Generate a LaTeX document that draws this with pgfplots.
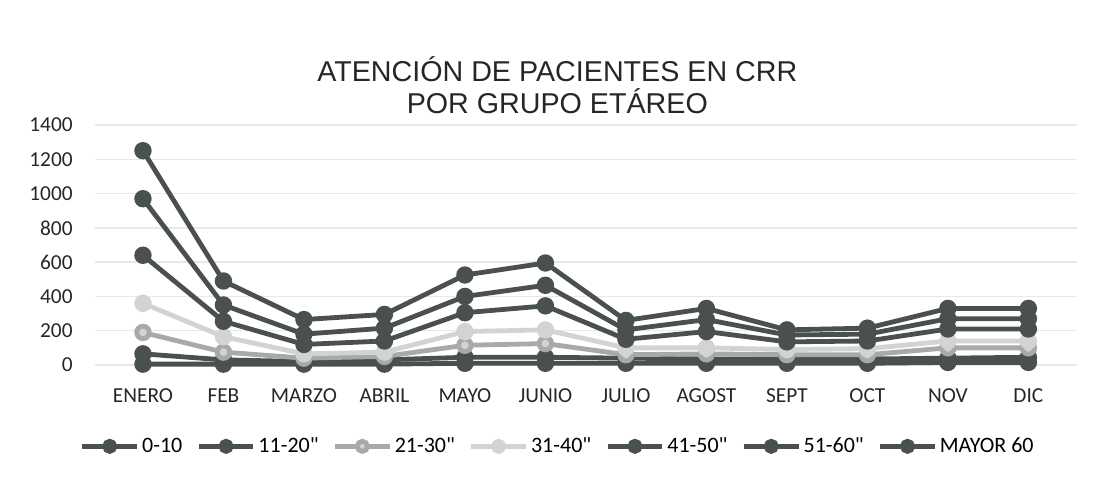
\documentclass[border=0pt]{standalone}
\usepackage{pgfplots}
\pgfplotsset{compat=1.18}
\usepackage{fontspec}
\setmainfont{Carlito}
\newfontfamily\legfont{Carlito}
\newfontfamily\titlefont{Liberation Sans}
\definecolor{dk}{HTML}{4A504E}
\definecolor{md}{HTML}{A8AAA9}
\definecolor{lt}{HTML}{D2D3D2}
\definecolor{gridc}{HTML}{E8E8E8}
\begin{document}
\begin{tikzpicture}[x=1pt,y=1pt]
\begin{axis}[
  scale only axis,
  width=736.5pt, height=180pt,
  xmin=-0.6, xmax=11.6, ymin=0, ymax=1400,
  axis line style={draw=none},
  xtick={0,...,11},
  xticklabels={ENERO,FEB,MARZO,ABRIL,MAYO,JUNIO,JULIO,AGOST,SEPT,OCT,NOV,DIC},
  ytick={0,200,...,1400},
  major tick length=0pt,
  tick style={draw=none},
  xmajorgrids=false,
  ymajorgrids, grid style={draw=gridc, line width=1pt},
  tick label style={font=\fontsize{16}{18}\selectfont, text=black!85},
  /pgf/number format/assume math mode=true,
  /pgf/number format/1000 sep={},
  xticklabel style={yshift=-14.5pt},
  yticklabel style={xshift=-13pt},
  every axis plot/.append style={line width=3.6pt, mark=*, mark size=4.7pt},
  legend columns=7,
  legend style={draw=none, fill=none, at={([yshift=-61pt]rel axis cs:0.472,0)}, anchor=center,
    font=\legfont\fontsize{16.5}{19}\selectfont,
    nodes={inner xsep=2pt},
    /tikz/every even column/.append style={column sep=8.5pt}},
  legend image code/.code={\draw[#1, line width=3.6pt] (0pt,0pt) -- (41pt,0pt);
    \draw[#1, mark size=3.8pt, mark repeat=1] plot coordinates {(20.5pt,0pt)};},
  clip=false,
]
\addplot[color=dk, mark options={fill=dk}] coordinates {(0,5)(1,5)(2,5)(3,5)(4,10)(5,10)(6,10)(7,10)(8,10)(9,10)(10,15)(11,15)};
\addlegendentry{0-10}
\addplot[color=dk, mark options={fill=dk}] coordinates {(0,65)(1,30)(2,20)(3,30)(4,45)(5,45)(6,40)(7,35)(8,35)(9,35)(10,40)(11,45)};
\addlegendentry{11-20"}
\addplot[color=md, mark options={fill=lt, draw=md}] coordinates {(0,190)(1,75)(2,40)(3,50)(4,115)(5,125)(6,60)(7,65)(8,60)(9,60)(10,100)(11,100)};
\addlegendentry{21-30"}
\addplot[color=lt, mark options={fill=lt}] coordinates {(0,360)(1,165)(2,65)(3,75)(4,195)(5,205)(6,100)(7,100)(8,90)(9,95)(10,140)(11,140)};
\addlegendentry{31-40"}
\addplot[color=dk, mark options={fill=dk}] coordinates {(0,640)(1,255)(2,120)(3,140)(4,305)(5,345)(6,150)(7,195)(8,135)(9,140)(10,210)(11,210)};
\addlegendentry{41-50"}
\addplot[color=dk, mark options={fill=dk}] coordinates {(0,970)(1,350)(2,180)(3,215)(4,400)(5,465)(6,205)(7,265)(8,175)(9,180)(10,270)(11,270)};
\addlegendentry{51-60"}
\addplot[color=dk, mark options={fill=dk}] coordinates {(0,1250)(1,490)(2,265)(3,295)(4,525)(5,595)(6,260)(7,330)(8,205)(9,215)(10,330)(11,330)};
\addlegendentry{MAYOR 60}
\node[font=\titlefont\fontsize{21.5}{24}\selectfont, align=center, text=black!85]
  at ([xshift=347pt, yshift=30pt]rel axis cs:0,1) {ATENCIÓN DE PACIENTES EN CRR\\POR GRUPO ETÁREO};
\end{axis}
\path[use as bounding box] ([shift={(-71pt,-87pt)}]current axis.south west) rectangle ([shift={(13pt,93.75pt)}]current axis.north east);
\end{tikzpicture}
\end{document}
